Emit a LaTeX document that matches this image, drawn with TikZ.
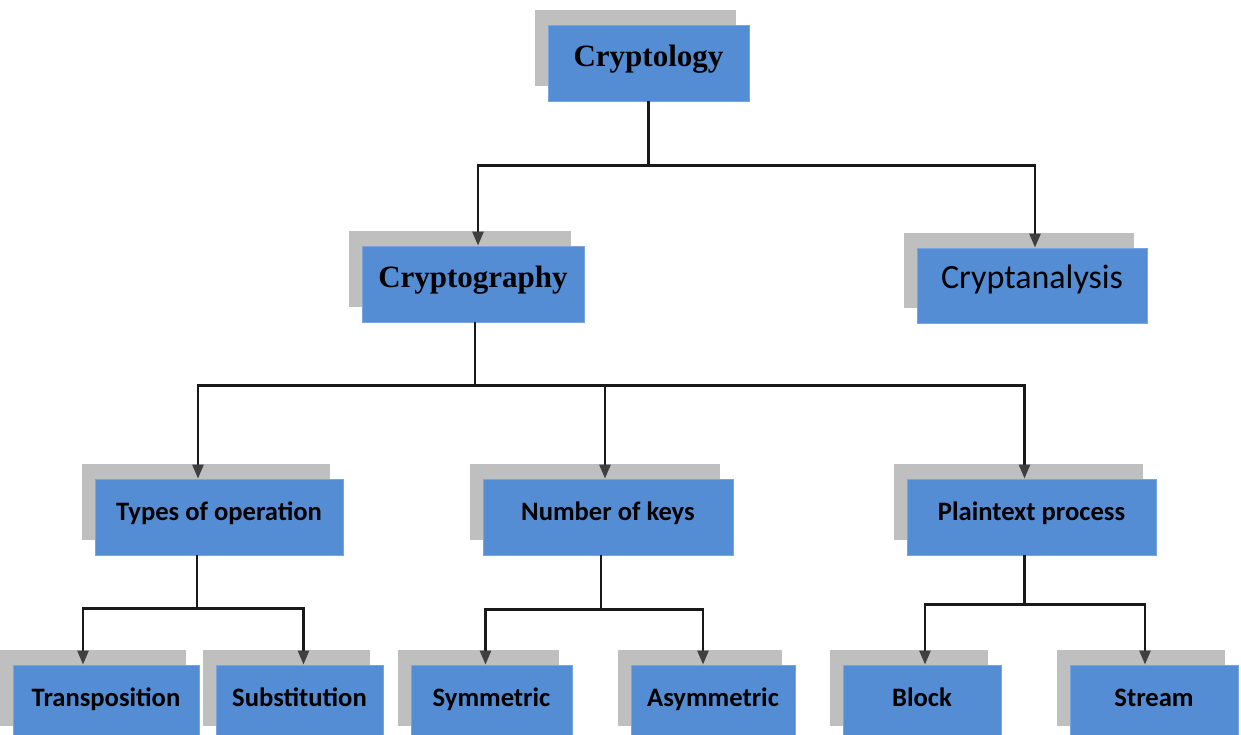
\documentclass[tikz,border=0pt]{standalone}
\usepackage{fontspec}
\setmainfont{Liberation Serif}
\newfontfamily\calibri{Carlito}
\usetikzlibrary{arrows.meta,shadows}
\definecolor{boxblue}{RGB}{84,141,212}
\definecolor{boxedge}{RGB}{120,165,225}
\definecolor{shadowgray}{RGB}{191,191,191}
\definecolor{linegray}{RGB}{25,25,25}
\definecolor{tipgray}{RGB}{64,64,64}
\begin{document}
\begin{tikzpicture}[x=0.5pt,y=-0.5pt,
  box/.style={fill=boxblue,draw=boxedge,line width=0.4pt,minimum height=38pt,
    inner sep=0pt,text height=1em,text depth=.7em,
    general shadow={fill=shadowgray,shadow xshift=-6.5pt,shadow yshift=7.5pt}},
  toplevel/.style={box,font=\bfseries\fontsize{15.5}{18}\selectfont},
  analysis/.style={box,font=\calibri\fontsize{17}{20}\selectfont},
  leaf/.style={box,font=\calibri\bfseries\fontsize{13.3}{16}\selectfont},
  link/.style={draw=linegray,line width=1.3pt},
  arr/.style={link,-{Triangle[length=7pt,width=5.5pt,color=tipgray,fill=tipgray]}}]
\useasboundingbox (0,0) rectangle (1241,734);
% boxes
\node[toplevel,minimum width=100.5pt] (cryptology) at (648.5,63) {Cryptology};
\node[toplevel,minimum width=111pt] (cryptography) at (473,284) {Cryptography};
\node[analysis,minimum width=115pt,minimum height=37.5pt] (cryptanalysis) at (1032,285.5) {Cryptanalysis};
\node[leaf,minimum width=124pt] (types) at (219,517) {Types of operation};
\node[leaf,minimum width=125pt] (keys) at (608,517) {Number of keys};
\node[leaf,minimum width=124.5pt] (plain) at (1031.5,517) {Plaintext process};
\node[leaf,minimum width=93pt] (transp) at (106,703) {Transposition};
\node[leaf,minimum width=83.5pt] (subst) at (299.5,703) {Substitution};
\node[leaf,minimum width=80.5pt] (sym) at (491.5,703) {Symmetric};
\node[leaf,minimum width=82pt] (asym) at (713,703) {Asymmetric};
\node[leaf,minimum width=79pt] (block) at (922,703) {Block};
\node[leaf,minimum width=84pt] (stream) at (1154,703) {Stream};
% level 1
\draw[link] (cryptology.south) -- ++(0,64) coordinate (b1);
\draw[arr] (b1) -| ([xshift=2.5pt]cryptography.north);
\draw[arr] (b1) -| ([xshift=1.5pt]cryptanalysis.north);
% level 2
\draw[link] ([xshift=1pt]cryptography.south) -- ++(0,63) coordinate (b2);
\draw[arr] (b2) -| ([xshift=-10.5pt]types.north);
\draw[arr] (b2) -| ([xshift=-1.5pt]keys.north);
\draw[arr] (b2) -| ([xshift=-3.5pt]plain.north);
% level 3
\draw[link] ([xshift=-11pt]types.south) -- ++(0,53) coordinate (b3);
\draw[arr] (b3) -| ([xshift=-11.5pt]transp.north);
\draw[arr] (b3) -| ([xshift=2pt]subst.north);
\draw[link] ([xshift=-3.5pt]keys.south) -- ++(0,54) coordinate (b4);
\draw[arr] (b4) -| ([xshift=-3pt]sym.north);
\draw[arr] (b4) -| ([xshift=-5pt]asym.north);
\draw[link] ([xshift=-3.5pt]plain.south) -- ++(0,49) coordinate (b5);
\draw[arr] (b5) -| ([xshift=1.5pt]block.north);
\draw[arr] (b5) -| ([xshift=-4.5pt]stream.north);
\end{tikzpicture}
\end{document}
